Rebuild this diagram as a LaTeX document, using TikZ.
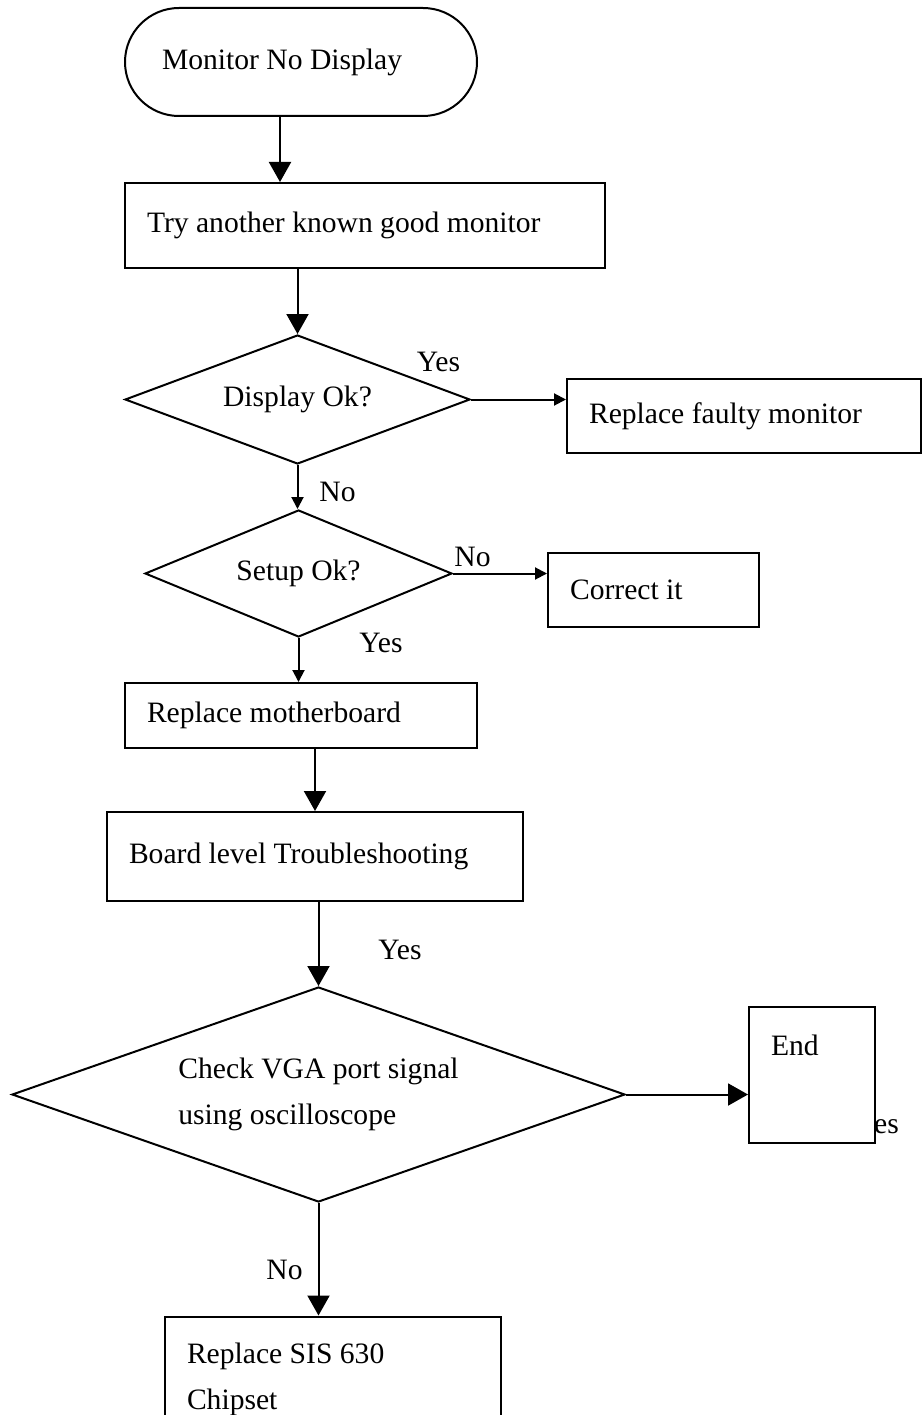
\documentclass[tikz,border=0pt]{standalone}
\usepackage{fontspec}
\setmainfont{Liberation Serif}
\usetikzlibrary{shapes.geometric, arrows.meta}

\begin{document}
\begin{tikzpicture}[
    x=1pt, y=-1pt,
    txt/.style={font=\fontsize{29.6}{46}\selectfont},
    stepbox/.style={rectangle, draw, line width=2pt, fill=white, txt, align=flush left, inner xsep=22pt, inner ysep=0pt},
    decision/.style={diamond, draw, line width=2pt, fill=white, txt, align=flush left, inner sep=0pt, aspect=2.6},
    tag/.style={txt, inner sep=0pt},
    bigarrow/.style={line width=2pt, -{Triangle[length=20pt, width=22pt]}},
    smallarrow/.style={line width=2pt, -{Triangle[length=12pt, width=12pt]}},
]
\useasboundingbox (0,0) rectangle (922,1415);
\clip (0,0) rectangle (922,1415);

\node[stepbox, rounded corners=54pt, minimum height=108pt, text width=278pt, inner xsep=37pt] (start) at (301,62) {Monitor No Display};
\node[stepbox, minimum height=85pt, text width=436pt]  (try)   at (365,225.5)  {Try another known good monitor};
\node[decision, minimum width=345pt, minimum height=129pt] (disp) at (297.5,399.5) {Display Ok?};
\node[stepbox, minimum height=74pt, text width=310pt]  (fault) at (744,416)    {Replace faulty monitor};
\node[decision, minimum width=307pt, minimum height=127pt] (setup) at (298.5,573.5) {Setup Ok?};
\node[stepbox, minimum height=74pt, text width=167pt]  (fix)   at (653.5,590)  {Correct it};
\node[stepbox, minimum height=65pt, text width=308pt]  (board) at (301,715.5)  {Replace motherboard};
\node[stepbox, minimum height=89pt, text width=372pt]  (level) at (315,856.5)  {Board level Troubleshooting};
\node[decision, minimum width=613pt, minimum height=215pt] (vga) at (318.5,1094.5) {Check VGA port signal\\using oscilloscope};
\node[tag] (es) at (886.5,1127) {es};
\node[stepbox, minimum height=136pt, text width=82pt, text depth=60pt] (end) at (812,1075) {End};
\node[stepbox, minimum height=125pt, text width=292pt] (chip)  at (333,1379) {Replace SIS 630\\Chipset};

% branch labels
\node[tag] (yes1) at (438.5,362) {Yes};
\node[tag] (no1)  at (337.5,492) {No};
\node[tag] (no2)  at (472.5,557) {No};
\node[tag] (yes2) at (381,643)   {Yes};
\node[tag] (yes3) at (400,950)   {Yes};
\node[tag] (no3)  at (284.5,1270) {No};

% connectors
\draw[bigarrow] ([xshift=-21pt]start.south) -- ([xshift=-85pt]try.north);
\draw[bigarrow] (try.south -| disp.north) -- (disp.north);
\draw[smallarrow] (disp.east) -- (disp.east -| fault.west);
\draw[smallarrow] (disp.south) -- (disp.south |- setup.north);
\draw[smallarrow] (setup.east) -- (setup.east -| fix.west);
\draw[smallarrow] (setup.south) -- (setup.south |- board.north);
\draw[bigarrow] (level.north |- board.south) -- (level.north);
\draw[bigarrow] (vga.north |- level.south) -- (vga.north);
\draw[bigarrow] (vga.east) -- (vga.east -| end.west);
\draw[bigarrow] (vga.south) -- (vga.south |- chip.north);
\end{tikzpicture}
\end{document}
